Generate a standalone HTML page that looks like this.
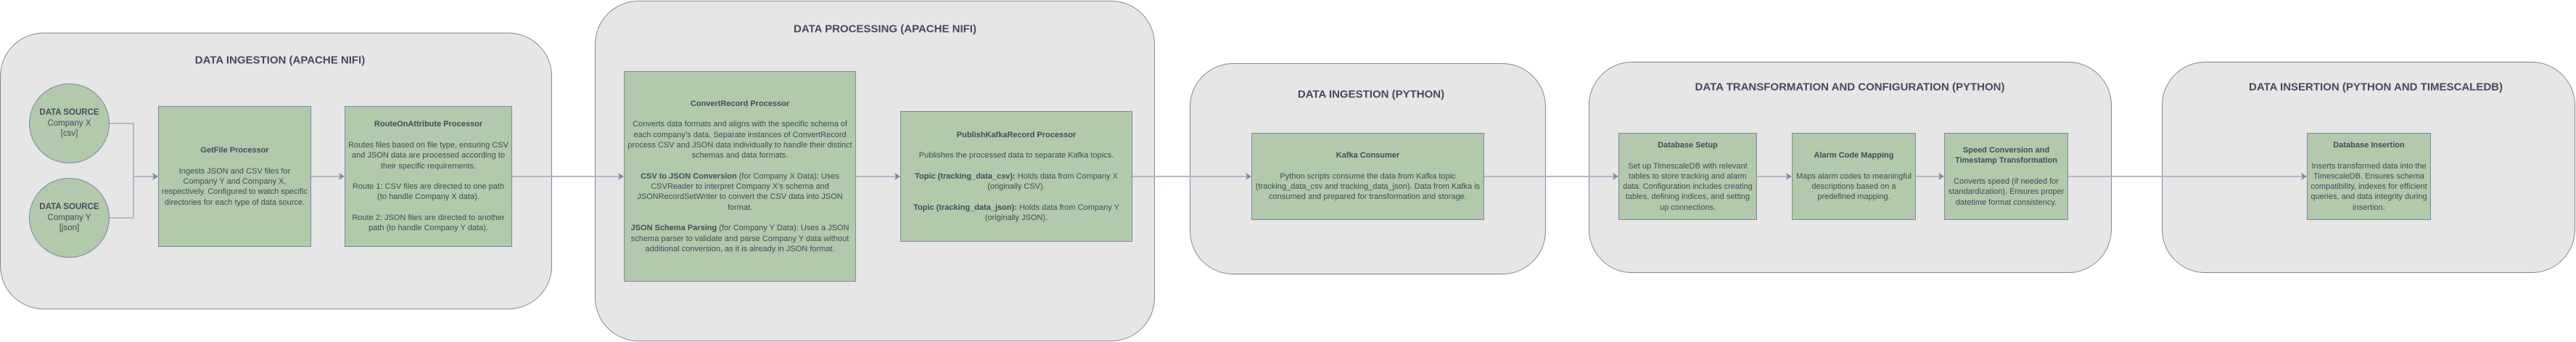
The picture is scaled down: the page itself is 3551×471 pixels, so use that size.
<!DOCTYPE html>
<html><head><meta charset="utf-8"><style>
html,body{margin:0;padding:0;background:#fff;}
body{width:3551px;height:471px;position:relative;overflow:hidden;font-family:"Liberation Sans",Arial,sans-serif;color:#46495d;}
.c{position:absolute;background:#e6e6e6;border:1.5px solid #788aa3;box-sizing:border-box;border-radius:60px;}
.t{position:absolute;font-weight:bold;font-size:15px;text-align:center;white-space:nowrap;transform:translate(-50%,-50%);}
.b{position:absolute;background:#b2c9ab;border:1.5px solid #788aa3;box-sizing:border-box;display:flex;align-items:center;justify-content:center;text-align:center;font-size:11px;line-height:14.3px;z-index:3;padding:0 3px;}
.e{position:absolute;background:#b2c9ab;border:1.5px solid #788aa3;box-sizing:border-box;border-radius:50%;display:flex;align-items:center;justify-content:center;text-align:center;font-size:11.5px;line-height:14.5px;z-index:3;}
svg{position:absolute;left:0;top:0;z-index:2;}
</style></head><body>
<div class="c" style="left:0;top:45px;width:761px;height:381px;"></div>
<div class="c" style="left:820px;top:1px;width:772px;height:469px;"></div>
<div class="c" style="left:1640px;top:87px;width:491px;height:291px;"></div>
<div class="c" style="left:2190px;top:85px;width:721px;height:291px;"></div>
<div class="c" style="left:2980px;top:85px;width:570px;height:291px;"></div>

<div class="t" style="left:386px;top:83px;">DATA INGESTION (APACHE NIFI)</div>
<div class="t" style="left:1220px;top:40px;">DATA PROCESSING (APACHE NIFI)</div>
<div class="t" style="left:1890px;top:130px;">DATA INGESTION (PYTHON)</div>
<div class="t" style="left:2550px;top:120px;">DATA TRANSFORMATION AND CONFIGURATION (PYTHON)</div>
<div class="t" style="left:3275px;top:120px;">DATA INSERTION (PYTHON AND TIMESCALEDB)</div>

<svg width="3551" height="471">
<g stroke="#b0b8c9" stroke-width="2" fill="none">
<polyline points="150,170 184,170 184,300 150,300"/>
<line x1="184" y1="243" x2="212" y2="243"/>
<line x1="428" y1="243" x2="469" y2="243"/>
<line x1="705" y1="243" x2="854" y2="243"/>
<line x1="1180" y1="243" x2="1235" y2="243"/>
<line x1="1560" y1="243" x2="1719" y2="243"/>
<line x1="2046" y1="243" x2="2225" y2="243"/>
<line x1="2421" y1="243" x2="2464" y2="243"/>
<line x1="2641" y1="243" x2="2674" y2="243"/>
<line x1="2851" y1="243" x2="3174" y2="243"/>
</g>
<g fill="#788aa3">
<polygon points="218,243 210,238 212,243 210,248"/>
<polygon points="475,243 467,238 469,243 467,248"/>
<polygon points="860,243 852,238 854,243 852,248"/>
<polygon points="1241,243 1233,238 1235,243 1233,248"/>
<polygon points="1725,243 1717,238 1719,243 1717,248"/>
<polygon points="2231,243 2223,238 2225,243 2223,248"/>
<polygon points="2470,243 2462,238 2464,243 2462,248"/>
<polygon points="2680,243 2672,238 2674,243 2672,248"/>
<polygon points="3180,243 3172,238 3174,243 3172,248"/>
</g>
</svg>

<div class="e" style="left:40px;top:115px;width:111px;height:110px;"><div><b>DATA SOURCE</b><br>Company X<br>[csv]</div></div>
<div class="e" style="left:40px;top:245px;width:111px;height:110px;"><div><b>DATA SOURCE</b><br>Company Y<br>[json]</div></div>

<div class="b" style="left:218px;top:146px;width:211px;height:194px;"><div><b>GetFile Processor</b><br><br>Ingests JSON and CSV files for Company Y and Company X, respectively. Configured to watch specific directories for each type of data source.</div></div>
<div class="b" style="left:475px;top:146px;width:231px;height:194px;"><div><b>RouteOnAttribute Processor</b><br><br>Routes files based on file type, ensuring CSV and JSON data are processed according to their specific requirements.<br><br>Route 1: CSV files are directed to one path (to handle Company X data).<br><br>Route 2: JSON files are directed to another path (to handle Company Y data).</div></div>

<div class="b" style="left:860px;top:98px;width:320px;height:290px;"><div><b>ConvertRecord Processor</b><br><br>Converts data formats and aligns with the specific schema of each company’s data. Separate instances of ConvertRecord process CSV and JSON data individually to handle their distinct schemas and data formats.<br><br><b>CSV to JSON Conversion</b> (for Company X Data): Uses CSVReader to interpret Company X’s schema and JSONRecordSetWriter to convert the CSV data into JSON format.<br><br><b>JSON Schema Parsing</b> (for Company Y Data): Uses a JSON schema parser to validate and parse Company Y data without additional conversion, as it is already in JSON format.</div></div>
<div class="b" style="left:1241px;top:153px;width:320px;height:180px;"><div><b>PublishKafkaRecord Processor</b><br><br>Publishes the processed data to separate Kafka topics.<br><br><b>Topic (tracking_data_csv):</b> Holds data from Company X (originally CSV).<br><br><b>Topic (tracking_data_json):</b> Holds data from Company Y (originally JSON).</div></div>

<div class="b" style="left:1725px;top:183px;width:321px;height:120px;"><div><b>Kafka Consumer</b><br><br>Python scripts consume the data from Kafka topic (tracking_data_csv and tracking_data_json). Data from Kafka is consumed and prepared for transformation and storage.</div></div>

<div class="b" style="left:2231px;top:183px;width:191px;height:120px;"><div><b>Database Setup</b><br><br>Set up TimescaleDB with relevant tables to store tracking and alarm data. Configuration includes creating tables, defining indices, and setting up connections.</div></div>
<div class="b" style="left:2470px;top:183px;width:171px;height:120px;"><div><b>Alarm Code Mapping</b><br><br>Maps alarm codes to meaningful descriptions based on a predefined mapping.</div></div>
<div class="b" style="left:2680px;top:183px;width:171px;height:120px;"><div><b>Speed Conversion and Timestamp Transformation</b><br><br>Converts speed (if needed for standardization). Ensures proper datetime format consistency.</div></div>

<div class="b" style="left:3180px;top:183px;width:171px;height:120px;"><div><b>Database Insertion</b><br><br>Inserts transformed data into the TimescaleDB. Ensures schema compatibility, indexes for efficient queries, and data integrity during insertion.</div></div>
</body></html>
